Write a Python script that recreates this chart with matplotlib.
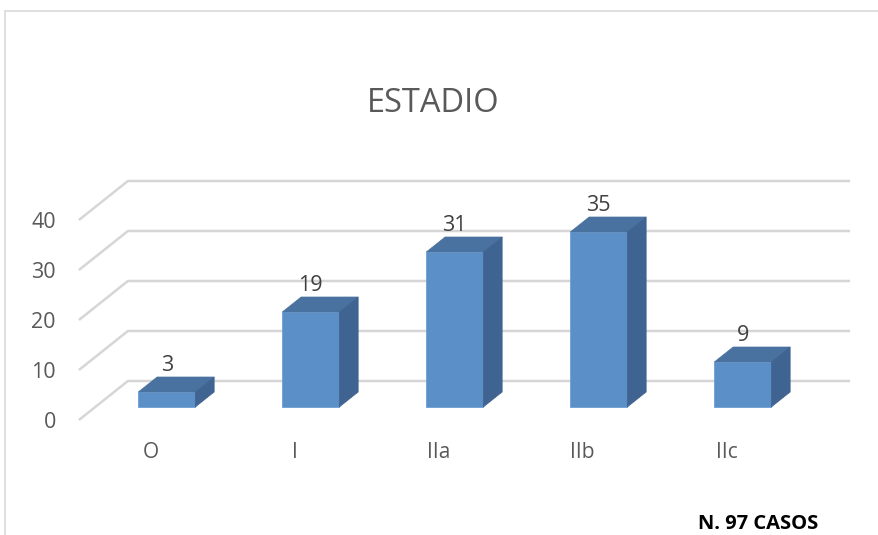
import matplotlib

matplotlib.use("Agg")
import matplotlib.pyplot as plt
from matplotlib.patches import Polygon, Rectangle

categories = ["O", "I", "IIa", "IIb", "IIc"]
counts = [3, 19, 31, 35, 9]
y_ticks = [0, 10, 20, 30, 40]
title = "ESTADIO"
footer = "N. 97 CASOS"

# pseudo-3D projection: depth t in [0, 1] moves a point right and up
DX, DY = 0.34, 7.8
T_FRONT, T_BACK = 0.333, 0.718
HALF_W = 0.198
X_LEFT, X_RIGHT = -0.497, 4.518

FRONT = "#5b8fc7"
TOP = "#4a72a0"
SIDE = "#3f6491"
GRID = "#d6d6d6"
TEXT = "#595959"

plt.rcParams["font.family"] = ["Open Sans", "DejaVu Sans"]


def proj(x, v, t):
    return (x + t * DX, v + t * DY)


fig = plt.figure(figsize=(8.79, 5.35), dpi=100)
ax = fig.add_axes([0, 0, 1, 1])
ax.set_xlim(-150.5 / 144, (879 - 150.5) / 144)
ax.set_ylim(-23, 84)
ax.axis("off")

# outer chart frame
fig.patches.append(Rectangle((5 / 879, -0.1), 1.2, 1 - 11 / 535 + 0.1, transform=fig.transFigure,
                             fill=False, edgecolor="#d9d9d9", lw=1.2))

for v in y_ticks:
    x0, y0 = proj(X_LEFT, v, 0)
    x1, y1 = proj(X_LEFT, v, 1)
    x2, y2 = proj(X_RIGHT, v, 1)
    ax.plot([x0, x1, x2], [y0, y1, y2], color=GRID, lw=1.8, solid_capstyle="butt", zorder=1)
    ax.text(x0 - 0.16, y0 - 0.5, str(v), ha="right", va="center", fontsize=15.5, color=TEXT)

for i, (cat, val) in enumerate(zip(categories, counts)):
    xl, xr = i - HALF_W, i + HALF_W
    fl = proj(xl, 0, T_FRONT)
    fr = proj(xr, 0, T_FRONT)
    tl = proj(xl, val, T_FRONT)
    tr = proj(xr, val, T_FRONT)
    btl = proj(xl, val, T_BACK)
    btr = proj(xr, val, T_BACK)
    bbr = proj(xr, 0, T_BACK)
    ax.add_patch(Polygon([fl, fr, tr, tl], closed=True, facecolor=FRONT, edgecolor="#6f9fd2", lw=0.6, zorder=3))
    ax.add_patch(Polygon([tl, tr, btr, btl], closed=True, facecolor=TOP, edgecolor=TOP, lw=0.5, zorder=3))
    ax.add_patch(Polygon([fr, bbr, btr, tr], closed=True, facecolor=SIDE, edgecolor=SIDE, lw=0.5, zorder=3))
    lx, _ = proj(i, 0, T_FRONT)
    ax.text(lx, val + T_BACK * DY + 2.2, str(val), ha="center", va="center", fontsize=15.5, color="#404040", zorder=4)
    ax.text(i, -6.5, cat, ha="center", va="center", fontsize=15, color=TEXT)

fig.text(433 / 879, 1 - 103 / 535, title, ha="center", va="center", fontsize=23.5, color=TEXT)
fig.text(758 / 879, 1 - 524 / 535, footer, ha="center", va="center", fontsize=14.5, fontweight="bold", color="black")

fig.savefig("out.png", dpi=100)
